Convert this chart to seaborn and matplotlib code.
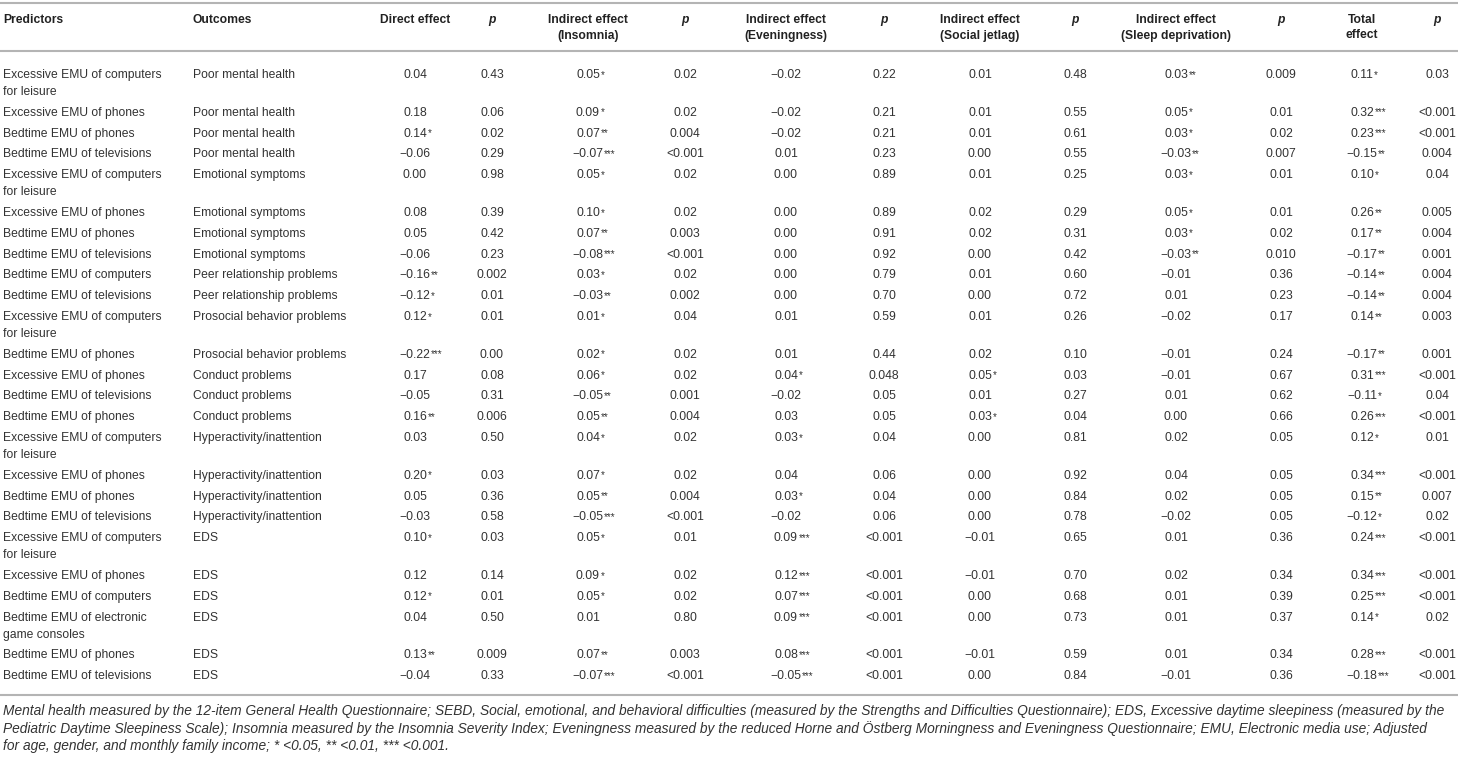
import pandas as pd
import matplotlib.pyplot as plt
import seaborn as sns

# data (strings keep the significance stars as printed)
predictors = [
    "Excessive EMU of computers\nfor leisure", "Excessive EMU of phones", "Bedtime EMU of phones",
    "Bedtime EMU of televisions", "Excessive EMU of computers\nfor leisure", "Excessive EMU of phones",
    "Bedtime EMU of phones", "Bedtime EMU of televisions", "Bedtime EMU of computers",
    "Bedtime EMU of televisions", "Excessive EMU of computers\nfor leisure", "Bedtime EMU of phones",
    "Excessive EMU of phones", "Bedtime EMU of televisions", "Bedtime EMU of phones",
    "Excessive EMU of computers\nfor leisure", "Excessive EMU of phones", "Bedtime EMU of phones",
    "Bedtime EMU of televisions", "Excessive EMU of computers\nfor leisure", "Excessive EMU of phones",
    "Bedtime EMU of computers", "Bedtime EMU of electronic\ngame consoles", "Bedtime EMU of phones",
    "Bedtime EMU of televisions",
]
outcomes = (["Poor mental health"] * 4 + ["Emotional symptoms"] * 4
            + ["Peer relationship problems"] * 2 + ["Prosocial behavior problems"] * 2
            + ["Conduct problems"] * 3 + ["Hyperactivity/inattention"] * 4 + ["EDS"] * 6)

direct = ["0.04", "0.18", "0.14*", "−0.06", "0.00", "0.08", "0.05", "−0.06", "−0.16**", "−0.12*",
          "0.12*", "−0.22***", "0.17", "−0.05", "0.16**", "0.03", "0.20*", "0.05", "−0.03", "0.10*",
          "0.12", "0.12*", "0.04", "0.13**", "−0.04"]
p_direct = ["0.43", "0.06", "0.02", "0.29", "0.98", "0.39", "0.42", "0.23", "0.002", "0.01",
            "0.01", "0.00", "0.08", "0.31", "0.006", "0.50", "0.03", "0.36", "0.58", "0.03",
            "0.14", "0.01", "0.50", "0.009", "0.33"]
ind_insomnia = ["0.05*", "0.09*", "0.07**", "−0.07***", "0.05*", "0.10*", "0.07**", "−0.08***", "0.03*",
                "−0.03**", "0.01*", "0.02*", "0.06*", "−0.05**", "0.05**", "0.04*", "0.07*", "0.05**",
                "−0.05***", "0.05*", "0.09*", "0.05*", "0.01", "0.07**", "−0.07***"]
p_insomnia = ["0.02", "0.02", "0.004", "<0.001", "0.02", "0.02", "0.003", "<0.001", "0.02", "0.002",
              "0.04", "0.02", "0.02", "0.001", "0.004", "0.02", "0.02", "0.004", "<0.001", "0.01",
              "0.02", "0.02", "0.80", "0.003", "<0.001"]
ind_evening = ["−0.02", "−0.02", "−0.02", "0.01", "0.00", "0.00", "0.00", "0.00", "0.00", "0.00",
               "0.01", "0.01", "0.04*", "−0.02", "0.03", "0.03*", "0.04", "0.03*", "−0.02", "0.09***",
               "0.12***", "0.07***", "0.09***", "0.08***", "−0.05***"]
p_evening = ["0.22", "0.21", "0.21", "0.23", "0.89", "0.89", "0.91", "0.92", "0.79", "0.70",
             "0.59", "0.44", "0.048", "0.05", "0.05", "0.04", "0.06", "0.04", "0.06", "<0.001",
             "<0.001", "<0.001", "<0.001", "<0.001", "<0.001"]
ind_jetlag = ["0.01", "0.01", "0.01", "0.00", "0.01", "0.02", "0.02", "0.00", "0.01", "0.00",
              "0.01", "0.02", "0.05*", "0.01", "0.03*", "0.00", "0.00", "0.00", "0.00", "−0.01",
              "−0.01", "0.00", "0.00", "−0.01", "0.00"]
p_jetlag = ["0.48", "0.55", "0.61", "0.55", "0.25", "0.29", "0.31", "0.42", "0.60", "0.72",
            "0.26", "0.10", "0.03", "0.27", "0.04", "0.81", "0.92", "0.84", "0.78", "0.65",
            "0.70", "0.68", "0.73", "0.59", "0.84"]
ind_sleep = ["0.03**", "0.05*", "0.03*", "−0.03**", "0.03*", "0.05*", "0.03*", "−0.03**", "−0.01", "0.01",
             "−0.02", "−0.01", "−0.01", "0.01", "0.00", "0.02", "0.04", "0.02", "−0.02", "0.01",
             "0.02", "0.01", "0.01", "0.01", "−0.01"]
p_sleep = ["0.009", "0.01", "0.02", "0.007", "0.01", "0.01", "0.02", "0.010", "0.36", "0.23",
           "0.17", "0.24", "0.67", "0.62", "0.66", "0.05", "0.05", "0.05", "0.05", "0.36",
           "0.34", "0.39", "0.37", "0.34", "0.36"]
total = ["0.11*", "0.32***", "0.23***", "−0.15**", "0.10*", "0.26**", "0.17**", "−0.17**", "−0.14**", "−0.14**",
         "0.14**", "−0.17**", "0.31***", "−0.11*", "0.26***", "0.12*", "0.34***", "0.15**", "−0.12*", "0.24***",
         "0.34***", "0.25***", "0.14*", "0.28***", "−0.18***"]
p_total = ["0.03", "<0.001", "<0.001", "0.004", "0.04", "0.005", "0.004", "0.001", "0.004", "0.004",
           "0.003", "0.001", "<0.001", "0.04", "<0.001", "0.01", "<0.001", "0.007", "0.02", "<0.001",
           "<0.001", "<0.001", "0.02", "<0.001", "<0.001"]

headers = ["Predictors", "Outcomes", "Direct effect", "p", "Indirect effect\n(Insomnia)", "p",
           "Indirect effect\n(Eveningness)", "p", "Indirect effect\n(Social jetlag)", "p",
           "Indirect effect\n(Sleep deprivation)", "p", "Total\neffect", "p"]

footnote = [
    "Mental health measured by the 12-item General Health Questionnaire; SEBD, Social, emotional, and behavioral "
    "difficulties (measured by the Strengths and Difficulties Questionnaire); EDS, Excessive daytime sleepiness (measured by the",
    "Pediatric Daytime Sleepiness Scale); Insomnia measured by the Insomnia Severity Index; Eveningness measured by the "
    "reduced Horne and Östberg Morningness and Eveningness Questionnaire; EMU, Electronic media use; Adjusted",
    "for age, gender, and monthly family income; * <0.05, ** <0.01, *** <0.001.",
]

df = pd.DataFrame({
    "pred": predictors, "out": outcomes,
    "direct": direct, "p1": p_direct, "ins": ind_insomnia, "p2": p_insomnia,
    "eve": ind_evening, "p3": p_evening, "jet": ind_jetlag, "p4": p_jetlag,
    "sleep": ind_sleep, "p5": p_sleep, "total": total, "p6": p_total,
})

sns.set_theme(style="white")
plt.rcParams['font.family'] = ['Liberation Sans', 'DejaVu Sans']

TXT = "#333333"
RULE = "#b4b4b4"
FS = 8.7

# layout in pixel units of the 1458x762 canvas
col_x = [3, 193, 415, 492, 588, 685, 786, 884, 980, 1075, 1176, 1281, 1362, 1437]
y_first, row_h, line_gap = 75, 20.8, 17

fig = plt.figure(figsize=(14.58, 7.62), dpi=100)
ax = fig.add_axes([0, 0, 1, 1])
ax.set_xlim(0, 1458)
ax.set_ylim(762, 0)
ax.axis("off")

# rules
for y, lw in [(3, 1.5), (51, 1.5), (695, 1.5)]:
    ax.axhline(y, color=RULE, lw=lw)

# header
for i, h in enumerate(headers):
    ha = "left" if i < 2 else "center"
    for k, line in enumerate(h.split("\n")):
        ax.text(col_x[i], 20 + k * 15.5, line, ha=ha, va="center", fontsize=FS,
                fontweight="bold", fontstyle="italic" if line == "p" else "normal", color="#222222")

# body
y = y_first
for _, row in df.iterrows():
    vals = list(row)
    lines = row["pred"].split("\n")
    for k, line in enumerate(lines):
        ax.text(col_x[0], y + k * line_gap, line, ha="left", va="center", fontsize=FS, color=TXT)
    ax.text(col_x[1], y, row["out"], ha="left", va="center", fontsize=FS, color=TXT)
    for i in range(2, 14):
        s = vals[i]
        num = s.rstrip("*")
        stars = s[len(num):]
        t = ax.text(col_x[i], y, num, ha="center", va="center", fontsize=FS, color=TXT)
        if stars:
            ax.annotate(stars, xy=(1, 0.95), xycoords=t, xytext=(0.5, 0), textcoords="offset points",
                        ha="left", va="top", fontsize=7, color=TXT)
    y += row_h + line_gap * (len(lines) - 1)

# footnote
for k, line in enumerate(footnote):
    ax.text(3, 711 + k * 17.5, line, ha="left", va="center", fontsize=9.94,
            fontstyle="italic", color=TXT)

plt.savefig("out.png", dpi=100)
